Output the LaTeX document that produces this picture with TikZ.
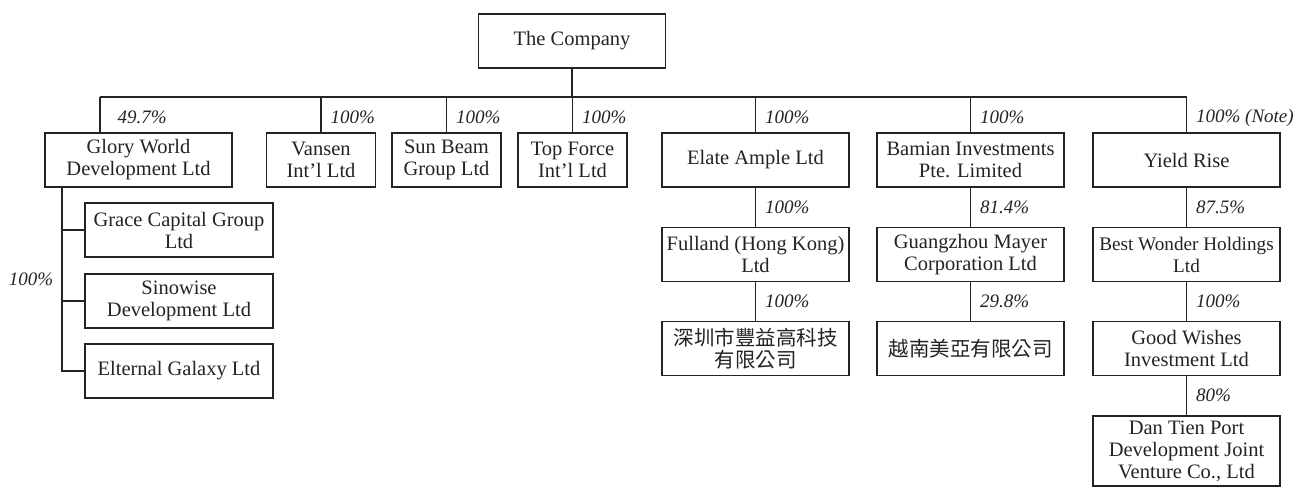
\documentclass[tikz,border=0pt]{standalone}
\usepackage{fontspec}
\setmainfont{Liberation Serif}
\newfontfamily\cjk{Noto Sans CJK TC}
\definecolor{inkline}{RGB}{38,34,35}
\tikzset{
  firm/.style={draw, align=center, inner sep=0pt, minimum height=27pt,
    font=\fontsize{10.25}{11}\selectfont},
  cjkfirm/.style={firm, font=\cjk\fontsize{10.25}{11}\selectfont},
  wide/.style={minimum width=93.5pt},
  narrow/.style={minimum width=54.5pt},
  pct/.style={inner sep=0pt, font=\fontsize{9.5}{11}\selectfont\itshape},
}
\begin{document}
\begin{tikzpicture}[x=0.5pt, y=-0.5pt, line width=0.6pt, color=inkline]
    \useasboundingbox (0,0) rectangle (1296,487);
    \node[firm, wide] (company) at (572,41) {The Company};
    % first tier
    \node[firm, wide] (glory) at (138.5,160) {Glory World\\Development Ltd};
    \node[firm, narrow] (vansen) at (321,160) {Vansen\\Int’l Ltd};
    \node[firm, narrow] (sunbeam) at (446.5,160) {Sun Beam\\Group Ltd};
    \node[firm, narrow] (topforce) at (572.5,160) {Top Force\\Int’l Ltd};
    \node[firm, wide] (elate) at (755.5,160) {Elate Ample Ltd};
    \node[firm, wide] (bamian) at (970.5,160) {Bamian Investments\\Pte. Limited};
    \node[firm, wide] (yield) at (1186.5,160) {Yield Rise};
    \coordinate (busL) at (100,97);
    \coordinate (busR) at (1186.5,97);
    \draw (company) -- (company.south |- busL);
    \draw (busL) -- (busR);
    \draw (busL) -- node[pct, right=8.5pt, pos=0.58] {49.7\%} (busL |- glory.north);
    \foreach \n in {vansen,sunbeam,topforce,elate,bamian}
        \draw (busL -| \n.north) -- node[pct, right=4.5pt, pos=0.58] {100\%} (\n);
    \draw (busR) -- node[pct, right=4.5pt, pos=0.58] {100\% (Note)} (yield);
    % under Glory World
    \node[firm, minimum width=94pt] (grace) at (179,230) {Grace Capital Group\\Ltd};
    \node[firm, minimum width=94pt] (sinowise) at (179,301) {Sinowise\\Development Ltd};
    \node[firm, minimum width=94pt] (elternal) at (179,371) {Elternal Galaxy Ltd};
    \coordinate (trunk) at (62,187);
    \draw (trunk) -- (trunk |- elternal.west) -- (elternal.west);
    \draw (trunk |- grace.west) -- (grace.west);
    \draw (trunk |- sinowise.west) -- (sinowise.west);
    \node[pct] (gracepct) at (31,279) {100\%};
    % right-hand columns
    \node[firm, wide] (fulland) at (755.5,254.5) {Fulland (Hong Kong)\\Ltd};
    \node[cjkfirm, wide] (shenzhen) at (755.5,348.5) {深圳市豐益高科技\\有限公司};
    \node[firm, wide] (mayer) at (970.5,254.5) {Guangzhou Mayer\\Corporation Ltd};
    \node[cjkfirm, wide] (vietnam) at (970.5,348.5) {越南美亞有限公司};
    \node[firm, wide, font=\fontsize{9.6}{11}\selectfont] (bestwonder) at (1186.5,254.5) {Best Wonder Holdings\\Ltd};
    \node[firm, wide] (goodwishes) at (1186.5,348.5) {Good Wishes\\Investment Ltd};
    \node[firm, wide, minimum height=35pt] (dantien) at (1186.5,451) {Dan Tien Port\\Development Joint\\Venture Co., Ltd};
    \draw (elate) -- node[pct, right=4.5pt] {100\%} (fulland);
    \draw (fulland) -- node[pct, right=4.5pt] {100\%} (shenzhen);
    \draw (bamian) -- node[pct, right=4.5pt] {81.4\%} (mayer);
    \draw (mayer) -- node[pct, right=4.5pt] {29.8\%} (vietnam);
    \draw (yield) -- node[pct, right=4.5pt] {87.5\%} (bestwonder);
    \draw (bestwonder) -- node[pct, right=4.5pt] {100\%} (goodwishes);
    \draw (goodwishes) -- node[pct, right=4.5pt] {80\%} (dantien);
\end{tikzpicture}
\end{document}
